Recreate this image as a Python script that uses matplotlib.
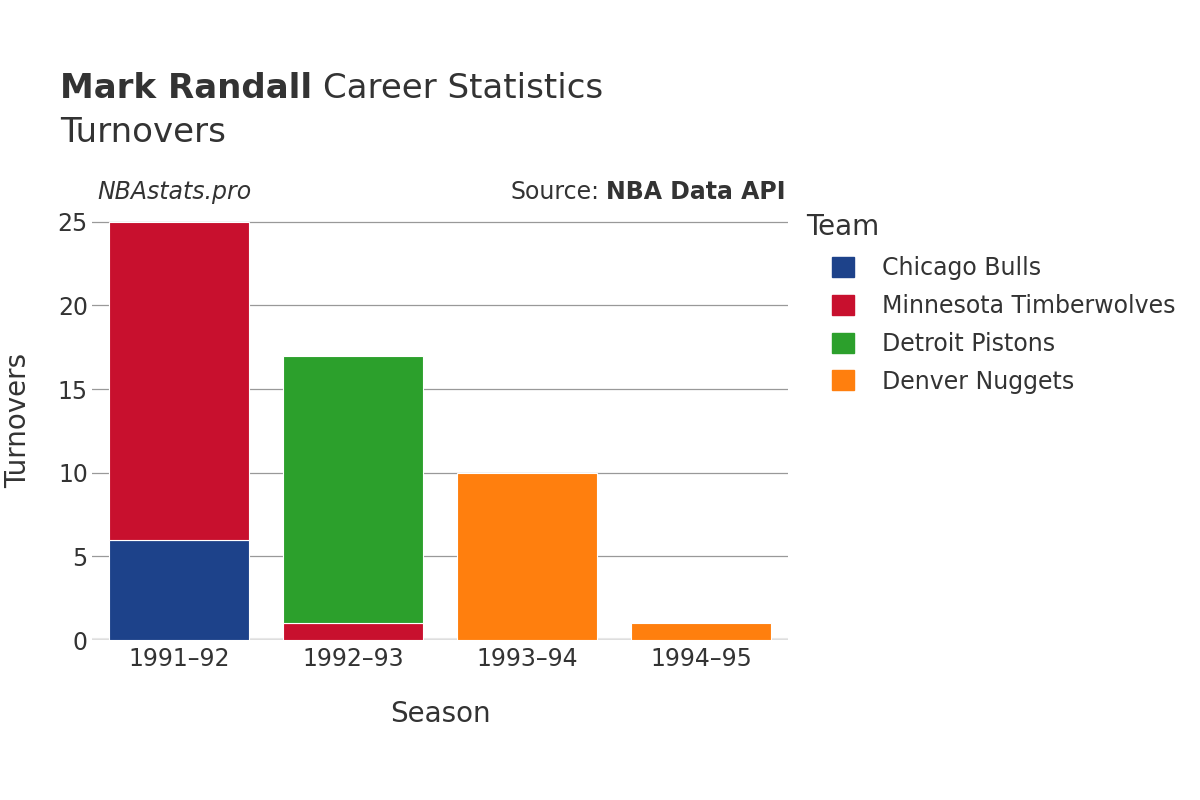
import matplotlib
matplotlib.use('Agg')
import matplotlib.pyplot as plt
from matplotlib.patches import Patch
import numpy as np

plt.rcParams['font.family'] = ['DejaVu Sans']

seasons = ['1991–92', '1992–93', '1993–94', '1994–95']
teams = ['Chicago Bulls', 'Minnesota Timberwolves', 'Detroit Pistons', 'Denver Nuggets']
colors = ['#1d428a', '#c8102e', '#2ca02c', '#ff7f0e']
# turnovers per team per season (stack order bottom -> top)
chicago = [6, 0, 0, 0]
minnesota = [19, 1, 0, 0]
detroit = [0, 16, 0, 0]
denver = [0, 0, 10, 1]
values = [chicago, minnesota, detroit, denver]

text_col = '#333333'

fig = plt.figure(figsize=(12, 8), dpi=100)
ax = fig.add_axes([92 / 1200, 0.2, 696 / 1200, 0.55])

x = np.arange(len(seasons))
bottom = np.zeros(len(seasons))
for team, vals, col in zip(teams, values, colors):
    vals = np.array(vals, dtype=float)
    mask = vals > 0
    ax.bar(x[mask], vals[mask], bottom=bottom[mask], width=0.8, color=col,
           edgecolor='white', linewidth=0.8, zorder=2)
    bottom += vals

ax.set_xlim(-0.5, 3.5)
ax.set_ylim(0, 26.3)
ax.set_yticks([0, 5, 10, 15, 20, 25])
ax.set_xticks(x)
ax.set_xticklabels(seasons)
ax.grid(axis='y', color='#999999', linewidth=0.9, zorder=0)
ax.axhline(0, color='#e8e8e8', linewidth=3, zorder=1)
for s in ax.spines.values():
    s.set_visible(False)
ax.tick_params(length=0, labelsize=17, colors=text_col, pad=5)
ax.tick_params(axis='y', pad=3)

ax.set_xlabel('Season', fontsize=20, color=text_col, labelpad=21)
ax.set_ylabel('Turnovers', fontsize=20, color=text_col, labelpad=18)

# title
fig.canvas.draw()
renderer = fig.canvas.get_renderer()
t1 = fig.text(60 / 1200, 1 - 88 / 800, 'Mark Randall', fontsize=24.5, fontweight='bold',
              color=text_col, va='center', ha='left')
bb = t1.get_window_extent(renderer=renderer)
fig.text(bb.x1 / 1200 + 0.009, 1 - 88 / 800, 'Career Statistics', fontsize=24.5,
         color=text_col, va='center', ha='left')
fig.text(60 / 1200, 1 - 132 / 800, 'Turnovers', fontsize=24.5, color=text_col,
         va='center', ha='left')

fig.text(97 / 1200, 1 - 192 / 800, 'NBAstats.pro', fontsize=17, style='italic',
         color=text_col, va='center', ha='left')
t2 = fig.text(785 / 1200, 1 - 192 / 800, 'NBA Data API', fontsize=17, fontweight='bold',
              color=text_col, va='center', ha='right')
bb2 = t2.get_window_extent(renderer=renderer)
fig.text(bb2.x0 / 1200 - 0.005, 1 - 192 / 800, 'Source:', fontsize=17,
         color=text_col, va='center', ha='right')

# legend
fig.text(806 / 1200, 1 - 227 / 800, 'Team', fontsize=20, color=text_col,
         va='center', ha='left')
handles = [Patch(facecolor=c, edgecolor=c) for c in colors]
leg = fig.legend(handles, teams, loc='upper left', bbox_to_anchor=(823 / 1200, 1 - 247 / 800),
                 frameon=False, fontsize=17,
                 handlelength=0.93, handleheight=0.93, handletextpad=1.15,
                 labelspacing=0.58, borderaxespad=0)
for t in leg.get_texts():
    t.set_color(text_col)

plt.savefig('out.png', dpi=100)
